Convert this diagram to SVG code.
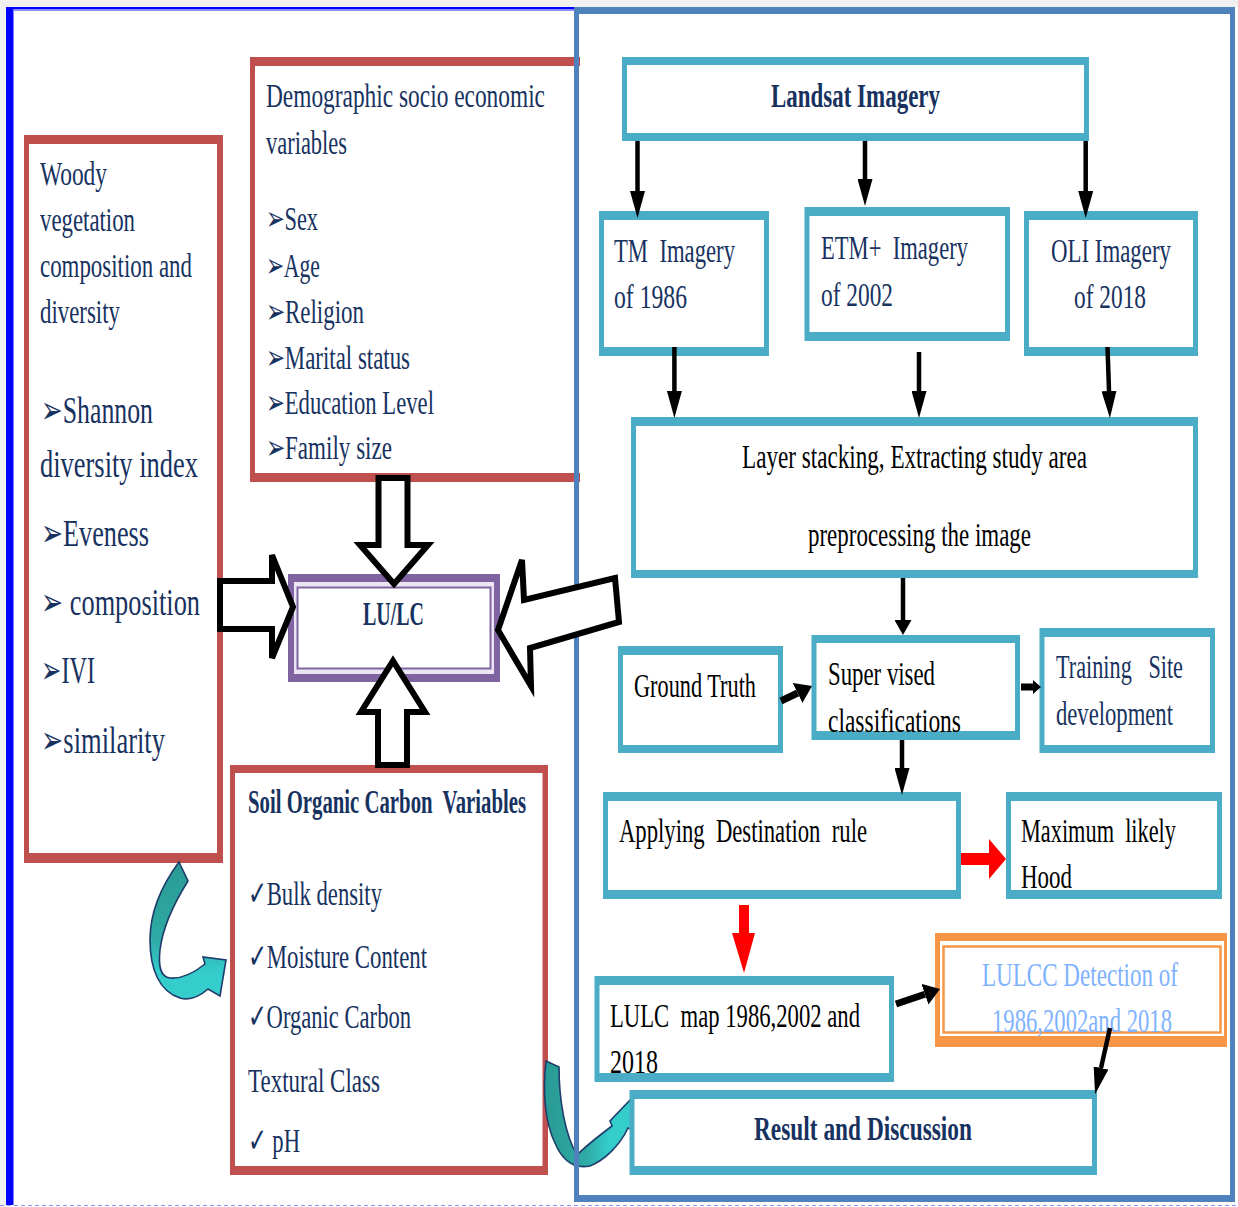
<svg xmlns="http://www.w3.org/2000/svg" width="1238" height="1207" viewBox="0 0 1238 1207">
<style>
.t{font-family:"Liberation Serif","Times New Roman",serif;font-size:34px;fill:#17325f;white-space:pre}
.k{fill:#000}
.b{font-weight:bold}
.lb{fill:#7fb2ff}
.it{font-size:38px}
.red{fill:#c0504d}
.teal{fill:#4bacc6}
.w{fill:#fff}
.blk{fill:#fff;stroke:#000;stroke-width:6;stroke-linejoin:miter}
.ln{stroke:#000;stroke-width:4.5;fill:none}
.lt{stroke:#000;stroke-width:7;fill:none}
.cur{stroke:#1f3d6b;stroke-width:1.6}
</style>
<defs>
<marker id="ah" viewBox="0 0 27 15" refX="0" refY="7.5" markerWidth="27" markerHeight="15" markerUnits="userSpaceOnUse" orient="auto"><path d="M0,0 L27,7.5 L0,15 Z" fill="#000"/></marker>
<marker id="ahS" viewBox="0 0 15 17" refX="0" refY="8.5" markerWidth="15" markerHeight="17" markerUnits="userSpaceOnUse" orient="auto"><path d="M0,0 L15,8.5 L0,17 Z" fill="#000"/></marker>
<marker id="ahT" viewBox="0 0 16 22" refX="0" refY="11" markerWidth="16" markerHeight="22" markerUnits="userSpaceOnUse" orient="auto"><path d="M0,0 L16,11 L0,22 Z" fill="#000"/></marker>
<linearGradient id="g1" x1="0" y1="0" x2="0" y2="1"><stop offset="0" stop-color="#2a9a94"/><stop offset="0.55" stop-color="#2ea9a3"/><stop offset="0.8" stop-color="#35cccc"/><stop offset="1" stop-color="#35cccc"/></linearGradient>
<linearGradient id="g2" x1="0" y1="0" x2="1" y2="0"><stop offset="0" stop-color="#2a9a94"/><stop offset="0.45" stop-color="#2ea9a3"/><stop offset="0.7" stop-color="#35cccc"/><stop offset="1" stop-color="#35cccc"/></linearGradient>
</defs>

<!-- background / frame -->
<rect x="0" y="0" width="1238" height="1207" fill="#fff"/>
<rect x="0" y="0" width="1238" height="7" fill="#f0f0f0"/>
<rect x="0" y="0" width="6" height="1207" fill="#f0f0f0"/>
<rect x="6" y="7" width="7.5" height="1198" fill="#0000ff"/>
<rect x="6" y="7" width="570" height="2.5" fill="#0000ff"/>
<rect x="13" y="9.5" width="563" height="1.5" fill="#9090ff"/>
<line x1="0" y1="1205.5" x2="1238" y2="1205.5" stroke="#8f8ff0" stroke-width="1.2" stroke-dasharray="4,3"/>

<!-- left panel nodes -->
<g id="woody">
<rect class="red" x="24" y="135" width="199" height="728"/>
<rect class="w" x="29" y="144" width="188" height="709"/>
<text class="t" x="40" y="185" textLength="67" lengthAdjust="spacingAndGlyphs">Woody</text>
<text class="t" x="40" y="231" textLength="95" lengthAdjust="spacingAndGlyphs">vegetation</text>
<text class="t" x="40" y="277" textLength="152" lengthAdjust="spacingAndGlyphs">composition and</text>
<text class="t" x="40" y="323" textLength="80" lengthAdjust="spacingAndGlyphs">diversity</text>
<text class="t it" x="41" y="423" textLength="112" lengthAdjust="spacingAndGlyphs">➢Shannon</text>
<text class="t it" x="40" y="477" textLength="158" lengthAdjust="spacingAndGlyphs">diversity index</text>
<text class="t it" x="41" y="546" textLength="108" lengthAdjust="spacingAndGlyphs">➢Eveness</text>
<text class="t it" x="41" y="615" textLength="159" lengthAdjust="spacingAndGlyphs">➢ composition</text>
<text class="t it" x="41" y="683" textLength="54" lengthAdjust="spacingAndGlyphs">➢IVI</text>
<text class="t it" x="41" y="753" textLength="124" lengthAdjust="spacingAndGlyphs">➢similarity</text>
</g>

<g id="demographic">
<rect class="red" x="250" y="57" width="330" height="425"/>
<rect class="w" x="255" y="66" width="325" height="407"/>
<text class="t" x="266" y="107" textLength="279" lengthAdjust="spacingAndGlyphs">Demographic socio economic</text>
<text class="t" x="266" y="154" textLength="81" lengthAdjust="spacingAndGlyphs">variables</text>
<text class="t" x="266" y="230" textLength="52" lengthAdjust="spacingAndGlyphs">➢Sex</text>
<text class="t" x="266" y="277" textLength="54" lengthAdjust="spacingAndGlyphs">➢Age</text>
<text class="t" x="266" y="323" textLength="98" lengthAdjust="spacingAndGlyphs">➢Religion</text>
<text class="t" x="266" y="369" textLength="144" lengthAdjust="spacingAndGlyphs">➢Marital status</text>
<text class="t" x="266" y="414" textLength="168" lengthAdjust="spacingAndGlyphs">➢Education Level</text>
<text class="t" x="266" y="459" textLength="126" lengthAdjust="spacingAndGlyphs">➢Family size</text>
</g>

<g id="soil">
<rect class="red" x="230" y="765" width="318" height="410"/>
<rect class="w" x="235" y="773" width="307.5" height="393"/>
<text class="t b" x="248" y="813" textLength="278" lengthAdjust="spacingAndGlyphs">Soil Organic Carbon  Variables</text>
<text class="t" x="248" y="905" textLength="134" lengthAdjust="spacingAndGlyphs">✓Bulk density</text>
<text class="t" x="248" y="968" textLength="179" lengthAdjust="spacingAndGlyphs">✓Moisture Content</text>
<text class="t" x="248" y="1028" textLength="163" lengthAdjust="spacingAndGlyphs">✓Organic Carbon</text>
<text class="t" x="248" y="1092" textLength="132" lengthAdjust="spacingAndGlyphs">Textural Class</text>
<text class="t" x="248" y="1152" textLength="52" lengthAdjust="spacingAndGlyphs">✓ pH</text>
</g>

<g id="lulc">
<rect x="288" y="574" width="212" height="108" fill="#8064a2"/>
<rect x="294" y="582" width="200" height="92" fill="#ece6f4"/>
<rect x="297.5" y="587.5" width="193" height="81" fill="#fff" stroke="#8064a2" stroke-width="2"/>
<text class="t b" x="363" y="625" textLength="61" lengthAdjust="spacingAndGlyphs">LU/LC</text>
</g>

<!-- curved teal arrows -->
<g id="curved-arrows">
<path class="cur" fill="url(#g1)" d="M179,862 L188,881 C176,900 163,925 160,950 C158,968 161,977 170,978 C182,979 195,972 205,964 L203,957 L226,960 L220,996 L208,989 C200,996 190,1001 180,998 C160,992 150,970 150,940 C150,910 162,885 179,862 Z"/>
<path class="cur" fill="url(#g2)" d="M546,1061 L559,1067 C559,1100 565,1135 577,1155 C587,1145 600,1135 612,1126 L610,1121 L632,1098 L636,1131 L628,1128 C620,1145 605,1160 590,1166 C575,1169 563,1162 555,1143 C546,1125 542,1095 546,1061 Z"/>
</g>

<!-- right panel frame -->
<g id="right-panel">
<path fill="#4f81bd" fill-rule="evenodd" d="M574,7 H1235 V1202 H574 Z M579,14 V1195 H1230 V14 Z"/>
</g>

<!-- right panel nodes -->
<g id="landsat">
<rect class="teal" x="622" y="57" width="467" height="84"/>
<rect class="w" x="627" y="65" width="457" height="68"/>
<text class="t b" x="771" y="107" textLength="169" lengthAdjust="spacingAndGlyphs">Landsat Imagery</text>
</g>
<g id="tm">
<rect class="teal" x="599" y="211" width="170" height="145"/>
<rect class="w" x="604" y="220" width="160" height="127"/>
<text class="t" x="614" y="262" textLength="121" lengthAdjust="spacingAndGlyphs">TM  Imagery</text>
<text class="t" x="614" y="308" textLength="73" lengthAdjust="spacingAndGlyphs">of 1986</text>
</g>
<g id="etm">
<rect class="teal" x="804.5" y="207" width="205.5" height="134"/>
<rect class="w" x="809.5" y="216" width="195.5" height="116"/>
<text class="t" x="821" y="259" textLength="147" lengthAdjust="spacingAndGlyphs">ETM+  Imagery</text>
<text class="t" x="821" y="306" textLength="72" lengthAdjust="spacingAndGlyphs">of 2002</text>
</g>
<g id="oli">
<rect class="teal" x="1024" y="211" width="174" height="145"/>
<rect class="w" x="1029" y="220" width="164" height="127"/>
<text class="t" transform="translate(1051,262) scale(0.7,1)" textLength="171.4" lengthAdjust="spacingAndGlyphs">OLI Imagery</text>
<text class="t" transform="translate(1074,308) scale(0.7,1)" textLength="102.9" lengthAdjust="spacingAndGlyphs">of 2018</text>
</g>
<g id="layer">
<rect class="teal" x="631" y="417" width="567" height="161"/>
<rect class="w" x="636" y="426" width="557" height="144"/>
<text class="t k" transform="translate(742,468) scale(0.7,1)" textLength="492.9" lengthAdjust="spacingAndGlyphs">Layer stacking, Extracting study area</text>
<text class="t k" x="808" y="546" textLength="223" lengthAdjust="spacingAndGlyphs">preprocessing the image</text>
</g>
<g id="ground-truth">
<rect class="teal" x="618" y="646" width="165" height="107"/>
<rect class="w" x="623" y="655" width="155" height="90"/>
<text class="t k" x="634" y="697" textLength="122" lengthAdjust="spacingAndGlyphs">Ground Truth</text>
</g>
<g id="supervised">
<rect class="teal" x="811.5" y="635" width="208.5" height="105"/>
<rect class="w" x="816.5" y="643" width="198.5" height="88"/>
<text class="t k" x="828" y="685" textLength="107" lengthAdjust="spacingAndGlyphs">Super vised</text>
<text class="t k" x="828" y="732" textLength="133" lengthAdjust="spacingAndGlyphs">classifications</text>
</g>
<g id="training">
<rect class="teal" x="1039.5" y="628" width="175.5" height="125"/>
<rect class="w" x="1044.5" y="637" width="165.5" height="108"/>
<text class="t" transform="translate(1056,678) scale(0.7,1)" textLength="181.4" lengthAdjust="spacingAndGlyphs">Training   Site</text>
<text class="t" transform="translate(1056,725) scale(0.7,1)" textLength="167.1" lengthAdjust="spacingAndGlyphs">development</text>
</g>
<g id="applying">
<rect class="teal" x="603" y="792" width="358" height="107"/>
<rect class="w" x="608" y="801" width="348" height="89"/>
<text class="t k" x="619" y="842" textLength="248" lengthAdjust="spacingAndGlyphs">Applying  Destination  rule</text>
</g>
<g id="maximum">
<rect class="teal" x="1006" y="792" width="216" height="107"/>
<rect class="w" x="1011" y="801" width="206" height="89"/>
<text class="t k" transform="translate(1021,842) scale(0.7,1)" textLength="221.4" lengthAdjust="spacingAndGlyphs">Maximum  likely</text>
<text class="t k" x="1021" y="888" textLength="51" lengthAdjust="spacingAndGlyphs">Hood</text>
</g>
<g id="lulc-map">
<rect class="teal" x="594.5" y="976" width="299.5" height="106"/>
<rect class="w" x="599.5" y="985" width="289.5" height="88"/>
<text class="t k" x="610" y="1027" textLength="250" lengthAdjust="spacingAndGlyphs">LULC  map 1986,2002 and</text>
<text class="t k" x="610" y="1073" textLength="48" lengthAdjust="spacingAndGlyphs">2018</text>
</g>
<g id="lulcc">
<rect x="935" y="933" width="292" height="114" fill="#f79646"/>
<rect class="w" x="940" y="941" width="284" height="95"/>
<rect x="943.5" y="946.5" width="277" height="86" fill="#fff" stroke="#f79646" stroke-width="2.5"/>
<text class="t lb" transform="translate(982,986) scale(0.7,1)" textLength="280" lengthAdjust="spacingAndGlyphs">LULCC Detection of</text>
<text class="t lb" transform="translate(992,1032) scale(0.7,1)" textLength="257.1" lengthAdjust="spacingAndGlyphs">1986,2002and 2018</text>
</g>
<g id="result">
<rect class="teal" x="629.5" y="1090" width="467.5" height="85"/>
<rect class="w" x="634.5" y="1099" width="457.5" height="67"/>
<text class="t b" x="754" y="1140" textLength="218" lengthAdjust="spacingAndGlyphs">Result and Discussion</text>
</g>

<!-- connectors -->
<g id="connectors">
<path class="ln" d="M637.5,141 V191" marker-end="url(#ah)"/>
<path class="ln" d="M865,141 V179" marker-end="url(#ah)"/>
<path class="ln" d="M1085.7,141 V191" marker-end="url(#ah)"/>
<path class="ln" d="M674.4,347 V391" marker-end="url(#ah)"/>
<path class="ln" d="M919,352 V391" marker-end="url(#ah)"/>
<path class="ln" d="M1107.5,347 L1109,391" marker-end="url(#ah)"/>
<path class="ln" d="M903,578 V620" marker-end="url(#ahS)"/>
<path class="ln" d="M902,740 V768" marker-end="url(#ah)"/>
<path class="lt" d="M781,701 L797.6,693" marker-end="url(#ahT)"/>
<polygon fill="#000" points="1021,683.5 1033,683.5 1033,680 1041,687 1033,694 1033,690.5 1021,690.5"/>
<polygon fill="#ff0000" points="961,853 989,853 989,839 1006,859 989,879 989,865 961,865"/>
<polygon fill="#ff0000" points="739,905 749,905 749,933 755,933 744,973 732,933 739,933"/>
<path class="lt" d="M896,1004 L924.9,994.2" marker-end="url(#ahT)"/>
<path class="ln" d="M1110,1028 L1101,1068" marker-end="url(#ah)"/>
<!-- block arrows into LU/LC -->
<polygon class="blk" points="378.5,478 407.5,478 407.5,545 428,545 394,584 360,545 378.5,545"/>
<polygon class="blk" points="378,765 407,765 407,712 425,712 393,661 361,712 378,712"/>
<polygon class="blk" points="220,581 272,581 272,555 293,607 272,658 272,629 220,629"/>
<polygon class="blk" points="498,630 522,560 524,600 615,578 619,622 530,648 531,686"/>
</g>
</svg>
